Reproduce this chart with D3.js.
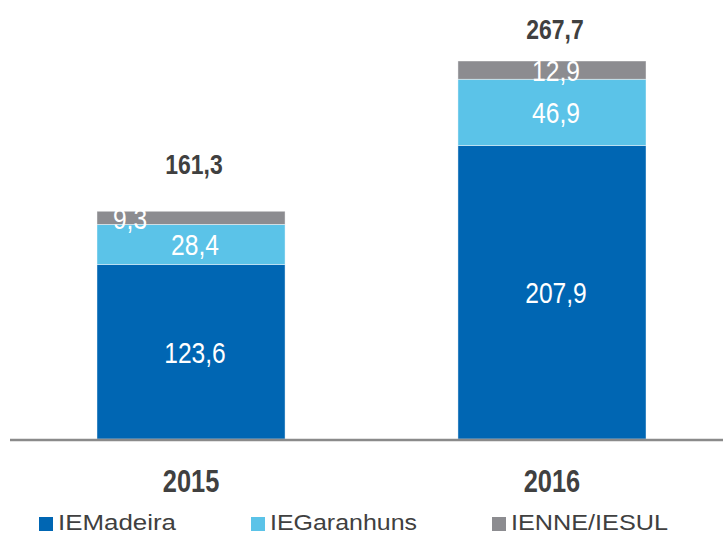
<!DOCTYPE html>
<html>
<head>
<meta charset="utf-8">
<script src="https://cdn.jsdelivr.net/npm/d3@7"></script>
<style>
  body { margin: 0; background: #fff; }
  svg { display: block; }
</style>
</head>
<body>
<div id="chart"></div>
<script>
// chart data
var years = ["2015", "2016"];
var seriesNames = ["IEMadeira", "IEGaranhuns", "IENNE/IESUL"];
var ieMadeira = [123.6, 207.9];
var ieGaranhuns = [28.4, 46.9];
var ienneIesul = [9.3, 12.9];
var totals = [161.3, 267.7];

var colors = ["#0066b3", "#5bc3e8", "#8c8c90"];
var font = "'Liberation Sans', Arial, sans-serif";
var squeeze = 0.82; // narrow look of the original font
var fmt = function(v){ return d3.format(".1f")(v).replace(".", ","); };

var width = 723, height = 534;

var svg = d3.select("#chart")
	.append("svg")
	.attr("width", width)
	.attr("height", height);

// build rows for the stack from the arrays above
var rows = years.map(function(y, i){
	return { year: y, "IEMadeira": ieMadeira[i], "IEGaranhuns": ieGaranhuns[i], "IENNE/IESUL": ienneIesul[i] };
});
var stacked = d3.stack().keys(seriesNames)(rows);

var x = d3.scaleBand()
	.domain(years)
	.range([10, 733])
	.paddingInner(0.479)
	.paddingOuter(0.241);

var y = d3.scaleLinear()
	.domain([0, 267.7])
	.range([439, 61]);

function narrowAt(sel, fx, fy){
	sel.attr("x", 0).attr("y", 0)
		.attr("transform", function(d, i){
			return "translate(" + fx(d, i) + "," + fy(d, i) + ") scale(" + squeeze + ",1)";
		});
}

// bars
var layers = svg.selectAll("g.layer")
	.data(stacked)
	.enter()
	.append("g")
	.attr("class", "layer")
	.attr("fill", function(d, i){ return colors[i]; });

layers.selectAll("rect")
	.data(function(d){ return d; })
	.enter()
	.append("rect")
	.attr("x", function(d){ return x(d.data.year); })
	.attr("y", function(d){ return y(d[1]); })
	.attr("width", x.bandwidth())
	.attr("height", function(d){ return y(d[0]) - y(d[1]); })
	.attr("stroke", "rgba(255,255,255,0.6)")
	.attr("stroke-width", 0.7);

// values inside the segments
layers.selectAll("text")
	.data(function(d){ return d; })
	.enter()
	.append("text")
	.attr("text-anchor", "middle")
	.attr("fill", "#fff")
	.style("font-family", font)
	.style("font-size", "30px")
	.text(function(d){ return fmt(d[1] - d[0]); })
	.call(narrowAt,
		function(d){
			var cx = x(d.data.year) + x.bandwidth() / 2;
			// small 2015 label sits towards the left like in the original
			return (d[1] - d[0] < 10) ? cx - 61 : cx + 4;
		},
		function(d){ return (y(d[0]) + y(d[1])) / 2 + 11; });

// totals
var totalGap = [37, 22];
svg.selectAll("text.total")
	.data(totals)
	.enter()
	.append("text")
	.attr("class", "total")
	.attr("text-anchor", "middle")
	.attr("fill", "#404040")
	.style("font-family", font)
	.style("font-weight", "bold")
	.style("font-size", "28px")
	.text(function(d){ return fmt(d); })
	.call(narrowAt,
		function(d, i){ return x(years[i]) + x.bandwidth() / 2 + 3; },
		function(d, i){ return y(d) - totalGap[i]; });

// baseline axis
svg.append("line")
	.attr("x1", 10)
	.attr("x2", width)
	.attr("y1", y(0) + 1)
	.attr("y2", y(0) + 1)
	.attr("stroke", "#8a8a8a")
	.attr("stroke-width", 2.5);

// category labels
svg.selectAll("text.cat")
	.data(years)
	.enter()
	.append("text")
	.attr("class", "cat")
	.attr("text-anchor", "middle")
	.attr("fill", "#404040")
	.style("font-family", font)
	.style("font-weight", "bold")
	.style("font-size", "31px")
	.text(function(d){ return d; })
	.call(narrowAt,
		function(d){ return x(d) + x.bandwidth() / 2; },
		function(){ return 492; });

// legend
var legendWidths = [118, 147, 157];
var legend = svg.append("g").attr("class", "legend");
var lx = 39;
seriesNames.forEach(function(name, i){
	legend.append("rect")
		.attr("x", lx)
		.attr("y", 517)
		.attr("width", 14)
		.attr("height", 14)
		.attr("fill", colors[i]);
	legend.append("text")
		.attr("x", lx + 19)
		.attr("y", 530)
		.attr("fill", "#404040")
		.attr("textLength", legendWidths[i])
		.attr("lengthAdjust", "spacingAndGlyphs")
		.style("font-family", font)
		.style("font-size", "22px")
		.text(name);
	lx += 19 + legendWidths[i] + 75;
});
</script>
</body>
</html>
